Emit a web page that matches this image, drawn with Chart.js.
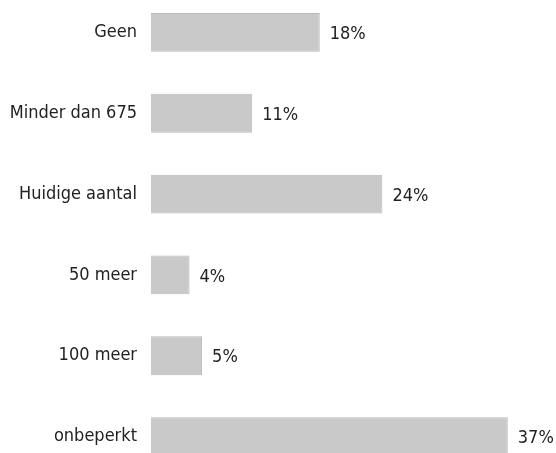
<!DOCTYPE html>
<html>
<head>
<meta charset="utf-8">
<script src="https://cdn.jsdelivr.net/npm/chart.js@4"></script>
<style>
  html, body { margin: 0; padding: 0; background: #fff; overflow: hidden; }
  #wrap { position: absolute; left: 0; top: -8px; width: 556px; height: 485px; }
</style>
</head>
<body>
<div id="wrap"><canvas id="chart"></canvas></div>
<script>
// Categories and shares (%), bar lengths
const categories = ['Geen', 'Minder dan 675', 'Huidige aantal', '50 meer', '100 meer', 'onbeperkt'];
const shares = [17.5, 10.5, 24, 4, 5.3, 37];
const valueLabels = ['18%', '11%', '24%', '4%', '5%', '37%'];

const FONT = '"DejaVu Sans Condensed", "DejaVu Sans", sans-serif';

// Draws the percentage next to each bar end
const endLabels = {
  id: 'endLabels',
  afterDatasetsDraw(chart) {
    const ctx = chart.ctx;
    const meta = chart.getDatasetMeta(0);
    ctx.save();
    ctx.font = '18px ' + FONT;
    ctx.fillStyle = '#222222';
    ctx.textAlign = 'left';
    ctx.textBaseline = 'middle';
    meta.data.forEach((bar, i) => {
      ctx.fillText(valueLabels[i], bar.x + 10, bar.y + 2);
    });
    ctx.restore();
  }
};

new Chart(document.getElementById('chart'), {
  type: 'bar',
  data: {
    labels: categories,
    datasets: [{
      data: shares,
      backgroundColor: '#c9c9c9',
      borderColor: '#b8b8b8',
      borderWidth: 1,
      barPercentage: 0.48,
      categoryPercentage: 1
    }]
  },
  options: {
    indexAxis: 'y',
    responsive: true,
    maintainAspectRatio: false,
    animation: false,
    layout: { padding: 0 },
    plugins: { legend: { display: false }, tooltip: { enabled: false } },
    scales: {
      x: { display: false, min: 0, max: 42 },
      y: {
        grid: { display: false, drawTicks: false },
        border: { display: false },
        afterFit(scale) {
          scale.width = 151;
          scale.paddingTop = 0;
          scale.paddingBottom = 0;
        },
        ticks: {
          padding: 14,
          color: '#222222',
          font: { family: FONT, size: 18 }
        }
      }
    }
  },
  plugins: [endLabels]
});
</script>
</body>
</html>
